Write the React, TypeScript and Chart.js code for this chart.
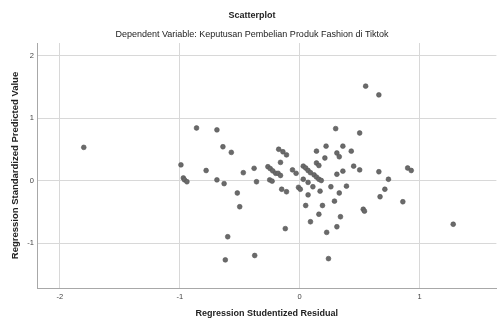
import React, { useEffect, useRef } from "react";
import { Chart, registerables } from "chart.js";

Chart.register(...registerables);

const TITLE = "Scatterplot";
const SUBTITLE = "Dependent Variable: Keputusan Pembelian Produk Fashion di Tiktok";
const X_TITLE = "Regression Studentized Residual";
const Y_TITLE = "Regression Standardized Predicted Value";

const X_TICKS = [-2, -1, 0, 1];
const Y_TICKS = [-1, 0, 1, 2];

// Regression Studentized Residual
const residuals = [
  -1.8, -0.86, -0.69, -0.64, -0.57, -0.99, -0.97, -0.96, -0.94, -0.78,
  -0.69, -0.63, -0.52, -0.5, -0.6, -0.62, -0.375, -0.47, -0.38, -0.36,
  -0.265, -0.245, -0.225, -0.2, -0.18, -0.16, -0.25, -0.23, -0.175, -0.14,
  -0.11, 0.55, 0.66, 0.3, 0.5, 0.14, 0.22, 0.31, 0.33, 0.36,
  0.43, 0.21, 0.14, 0.16, -0.16, -0.06, -0.03, 0.03, 0.05, 0.07,
  0.09, 0.12, 0.14, 0.16, 0.31, 0.36, 0.45, 0.5, 0.66, 0.9,
  0.93, 0.74, 0.03, 0.07, 0.11, -0.15, -0.11, -0.01, 0.005, 0.07,
  0.17, 0.26, 0.33, 0.39, 0.71, 0.67, 0.86, 0.05, 0.19, 0.29,
  0.53, 0.54, 0.16, 0.09, 0.34, 0.31, 0.225, -0.12, 0.24, 1.28,
  0.18,
];

// Regression Standardized Predicted Value
const predicted = [
  0.53, 0.84, 0.81, 0.54, 0.45, 0.25, 0.04, 0.01, -0.02, 0.16,
  0.01, -0.05, -0.2, -0.42, -0.9, -1.27, -1.2, 0.125, 0.195, -0.02,
  0.22, 0.19, 0.155, 0.115, 0.115, 0.08, 0.01, -0.01, 0.5, 0.46,
  0.41, 1.51, 1.37, 0.83, 0.76, 0.47, 0.55, 0.44, 0.38, 0.55,
  0.47, 0.36, 0.28, 0.24, 0.29, 0.17, 0.115, 0.23, 0.2, 0.16,
  0.125, 0.09, 0.055, 0.02, 0.1, 0.15, 0.23, 0.17, 0.14, 0.2,
  0.16, 0.02, 0.02, -0.03, -0.1, -0.14, -0.18, -0.11, -0.14, -0.23,
  -0.17, -0.1, -0.2, -0.09, -0.14, -0.26, -0.34, -0.4, -0.4, -0.33,
  -0.46, -0.49, -0.54, -0.66, -0.58, -0.74, -0.83, -0.77, -1.25, -0.7,
  0.0,
];

const FONT = "'Liberation Sans', Arial, sans-serif";

export default function App() {
  const canvasRef = useRef<HTMLCanvasElement | null>(null);

  useEffect(() => {
    const canvas = canvasRef.current;
    if (!canvas) return;
    const points = residuals.map((x, i) => ({ x, y: predicted[i] }));
    const chart = new Chart(canvas, {
      type: "scatter",
      data: {
        datasets: [
          {
            data: points,
            backgroundColor: "#6a6a6a",
            borderColor: "#555",
            borderWidth: 0.6,
            pointRadius: 2.4,
          },
        ],
      },
      options: {
        animation: false,
        responsive: false,
        maintainAspectRatio: false,
        layout: { padding: { left: 0, right: -3, top: 0, bottom: 0 } },
        plugins: {
          legend: { display: false },
          tooltip: { enabled: false },
          title: {
            display: true,
            text: TITLE,
            color: "#222",
            font: { family: FONT, size: 9, weight: "bold" },
            padding: { top: 10, bottom: 4 },
          },
          subtitle: {
            display: true,
            text: SUBTITLE,
            color: "#222",
            font: { family: FONT, size: 9, weight: "normal" },
            padding: { top: 4.8, bottom: 2.6 },
          },
        },
        scales: {
          x: {
            type: "linear",
            min: -2.19,
            max: 1.64,
            afterBuildTicks: (scale: any) => {
              scale.ticks = X_TICKS.map((v) => ({ value: v }));
            },
            afterFit: (scale: any) => {
              scale.height = 34;
            },
            grid: { color: "#d8d8d8", lineWidth: 1, drawTicks: false },
            border: { display: true, color: "#a8a8a8", width: 1 },
            ticks: {
              color: "#444",
              font: { family: FONT, size: 7.5 },
              padding: 4,
              maxRotation: 0,
              autoSkip: false,
            },
            title: {
              display: true,
              text: X_TITLE,
              color: "#222",
              font: { family: FONT, size: 9, weight: "bold" },
              padding: { top: 0, bottom: 3 },
            },
          },
          y: {
            type: "linear",
            min: -1.72,
            max: 2.2,
            afterBuildTicks: (scale: any) => {
              scale.ticks = Y_TICKS.map((v) => ({ value: v }));
            },
            afterFit: (scale: any) => {
              scale.width = 37;
            },
            grid: { color: "#d8d8d8", lineWidth: 1, drawTicks: false },
            border: { display: true, color: "#a8a8a8", width: 1 },
            ticks: {
              color: "#444",
              font: { family: FONT, size: 7.5 },
              padding: 3,
              autoSkip: false,
            },
            title: {
              display: true,
              text: Y_TITLE,
              color: "#222",
              font: { family: FONT, size: 9.5, weight: "bold" },
              padding: { top: 10, bottom: 0 },
            },
          },
        },
      },
    });
    return () => chart.destroy();
  }, []);

  return (
    <div style={{ position: "fixed", left: 0, top: 0, width: 501, height: 322, background: "#fff" }}>
      <canvas ref={canvasRef} width={501} height={322} style={{ width: 501, height: 322, display: "block" }} />
    </div>
  );
}
